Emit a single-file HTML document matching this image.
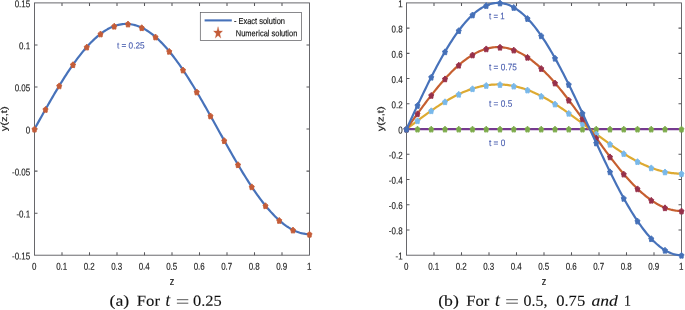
<!DOCTYPE html>
<html><head><meta charset="utf-8"><title>Figure</title>
<style>
html,body{margin:0;padding:0;background:#fff;}
body{width:685px;height:310px;overflow:hidden;font-family:"Liberation Sans",sans-serif;}
text{font-family:"Liberation Sans",sans-serif;}
.tk{font-size:10.0px;fill:#1c1c1c;stroke:#1c1c1c;stroke-width:0.15px;}
.lb{font-size:11.2px;fill:#1c1c1c;stroke:#1c1c1c;stroke-width:0.2px;}
.lg{fill:#111;stroke:#111;stroke-width:0.15px;}
.an{fill:#4a5fb0;stroke:#4a5fb0;stroke-width:0.12px;}
.cp{font-family:"Liberation Serif",serif;fill:#111;stroke:#111;stroke-width:0.12px;}
</style></head><body>
<svg width="685" height="310" viewBox="0 0 685 310" style="display:block;will-change:transform">
<rect width="685" height="310" fill="#fff"/>
<rect x="34.5" y="2.9" width="275.0" height="252.29999999999998" fill="none" stroke="#58585c" stroke-width="0.9"/>
<text transform="translate(34.20,269.80) scale(0.8,1) rotate(0.05)" text-anchor="middle" class="tk">0</text>
<text transform="translate(61.70,269.80) scale(0.8,1) rotate(0.05)" text-anchor="middle" class="tk">0.1</text>
<text transform="translate(89.20,269.80) scale(0.8,1) rotate(0.05)" text-anchor="middle" class="tk">0.2</text>
<text transform="translate(116.70,269.80) scale(0.8,1) rotate(0.05)" text-anchor="middle" class="tk">0.3</text>
<text transform="translate(144.20,269.80) scale(0.8,1) rotate(0.05)" text-anchor="middle" class="tk">0.4</text>
<text transform="translate(171.70,269.80) scale(0.8,1) rotate(0.05)" text-anchor="middle" class="tk">0.5</text>
<text transform="translate(199.20,269.80) scale(0.8,1) rotate(0.05)" text-anchor="middle" class="tk">0.6</text>
<text transform="translate(226.70,269.80) scale(0.8,1) rotate(0.05)" text-anchor="middle" class="tk">0.7</text>
<text transform="translate(254.20,269.80) scale(0.8,1) rotate(0.05)" text-anchor="middle" class="tk">0.8</text>
<text transform="translate(281.70,269.80) scale(0.8,1) rotate(0.05)" text-anchor="middle" class="tk">0.9</text>
<text transform="translate(309.20,269.80) scale(0.8,1) rotate(0.05)" text-anchor="middle" class="tk">1</text>
<text transform="translate(30.20,259.55) scale(0.8,1) rotate(0.05)" text-anchor="end" class="tk">-0.15</text>
<text transform="translate(30.20,217.50) scale(0.8,1) rotate(0.05)" text-anchor="end" class="tk">-0.1</text>
<text transform="translate(30.20,175.45) scale(0.8,1) rotate(0.05)" text-anchor="end" class="tk">-0.05</text>
<text transform="translate(30.20,133.40) scale(0.8,1) rotate(0.05)" text-anchor="end" class="tk">0</text>
<text transform="translate(30.20,91.35) scale(0.8,1) rotate(0.05)" text-anchor="end" class="tk">0.05</text>
<text transform="translate(30.20,49.30) scale(0.8,1) rotate(0.05)" text-anchor="end" class="tk">0.1</text>
<text transform="translate(30.20,7.25) scale(0.8,1) rotate(0.05)" text-anchor="end" class="tk">0.15</text>
<path d="M62.00,255.2v-3.0M62.00,2.9v3.0M89.50,255.2v-3.0M89.50,2.9v3.0M117.00,255.2v-3.0M117.00,2.9v3.0M144.50,255.2v-3.0M144.50,2.9v3.0M172.00,255.2v-3.0M172.00,2.9v3.0M199.50,255.2v-3.0M199.50,2.9v3.0M227.00,255.2v-3.0M227.00,2.9v3.0M254.50,255.2v-3.0M254.50,2.9v3.0M282.00,255.2v-3.0M282.00,2.9v3.0M34.5,213.15h3.0M309.5,213.15h-3.0M34.5,171.10h3.0M309.5,171.10h-3.0M34.5,129.05h3.0M309.5,129.05h-3.0M34.5,87.00h3.0M309.5,87.00h-3.0M34.5,44.95h3.0M309.5,44.95h-3.0" stroke="#58585c" stroke-width="1.05" fill="none"/>
<path d="M34.50,129.05 L35.88,126.57 L37.25,124.10 L38.62,121.63 L40.00,119.16 L41.38,116.69 L42.75,114.24 L44.12,111.79 L45.50,109.35 L46.88,106.92 L48.25,104.51 L49.62,102.11 L51.00,99.72 L52.38,97.35 L53.75,95.00 L55.12,92.66 L56.50,90.35 L57.88,88.06 L59.25,85.79 L60.62,83.54 L62.00,81.32 L63.38,79.13 L64.75,76.96 L66.12,74.83 L67.50,72.72 L68.88,70.65 L70.25,68.60 L71.62,66.59 L73.00,64.62 L74.38,62.68 L75.75,60.78 L77.12,58.91 L78.50,57.09 L79.88,55.30 L81.25,53.56 L82.62,51.85 L84.00,50.19 L85.38,48.58 L86.75,47.01 L88.12,45.48 L89.50,44.00 L90.88,42.57 L92.25,41.19 L93.62,39.85 L95.00,38.56 L96.38,37.33 L97.75,36.14 L99.12,35.01 L100.50,33.93 L101.88,32.90 L103.25,31.93 L104.62,31.01 L106.00,30.14 L107.38,29.33 L108.75,28.57 L110.12,27.87 L111.50,27.23 L112.88,26.64 L114.25,26.11 L115.62,25.64 L117.00,25.22 L118.38,24.86 L119.75,24.56 L121.12,24.32 L122.50,24.13 L123.88,24.01 L125.25,23.94 L126.62,23.93 L128.00,23.98 L129.38,24.08 L130.75,24.25 L132.12,24.47 L133.50,24.75 L134.88,25.09 L136.25,25.49 L137.62,25.94 L139.00,26.46 L140.38,27.03 L141.75,27.65 L143.12,28.33 L144.50,29.07 L145.88,29.86 L147.25,30.71 L148.62,31.61 L150.00,32.57 L151.38,33.58 L152.75,34.64 L154.12,35.76 L155.50,36.93 L156.88,38.15 L158.25,39.42 L159.62,40.74 L161.00,42.10 L162.38,43.52 L163.75,44.98 L165.12,46.49 L166.50,48.05 L167.88,49.65 L169.25,51.30 L170.62,52.98 L172.00,54.72 L173.38,56.49 L174.75,58.30 L176.12,60.15 L177.50,62.04 L178.88,63.97 L180.25,65.93 L181.62,67.93 L183.00,69.96 L184.38,72.03 L185.75,74.12 L187.12,76.25 L188.50,78.41 L189.87,80.59 L191.25,82.80 L192.62,85.04 L194.00,87.30 L195.38,89.58 L196.75,91.89 L198.12,94.22 L199.50,96.56 L200.88,98.93 L202.25,101.31 L203.62,103.71 L205.00,106.12 L206.38,108.54 L207.75,110.98 L209.12,113.42 L210.50,115.87 L211.88,118.34 L213.25,120.80 L214.62,123.27 L216.00,125.75 L217.38,128.22 L218.75,130.70 L220.12,133.18 L221.50,135.65 L222.88,138.12 L224.25,140.59 L225.62,143.04 L227.00,145.50 L228.38,147.94 L229.75,150.37 L231.12,152.79 L232.50,155.19 L233.88,157.59 L235.25,159.96 L236.62,162.32 L238.00,164.66 L239.38,166.98 L240.75,169.28 L242.12,171.56 L243.50,173.81 L244.88,176.04 L246.25,178.24 L247.62,180.42 L249.00,182.56 L250.38,184.68 L251.75,186.77 L253.12,188.82 L254.50,190.84 L255.88,192.83 L257.25,194.78 L258.62,196.69 L260.00,198.57 L261.38,200.41 L262.75,202.21 L264.12,203.97 L265.50,205.68 L266.88,207.36 L268.25,208.99 L269.62,210.57 L271.00,212.12 L272.38,213.61 L273.75,215.06 L275.12,216.46 L276.50,217.81 L277.88,219.11 L279.25,220.36 L280.62,221.57 L282.00,222.72 L283.38,223.82 L284.75,224.86 L286.12,225.85 L287.50,226.79 L288.88,227.68 L290.25,228.51 L291.62,229.28 L293.00,230.00 L294.38,230.66 L295.75,231.27 L297.12,231.82 L298.50,232.31 L299.88,232.75 L301.25,233.13 L302.62,233.45 L304.00,233.71 L305.38,233.91 L306.75,234.06 L308.12,234.15 L309.50,234.17" fill="none" stroke="#4772ba" stroke-width="2.2" stroke-linejoin="round" stroke-linecap="butt"/>
<polygon points="34.50,126.15 35.64,127.51 37.04,128.43 36.35,130.19 36.07,132.12 34.50,131.85 32.93,132.12 32.65,130.19 31.96,128.43 33.36,127.51" fill="#c45c38" stroke="#c45c38" stroke-width="0.9" stroke-linejoin="round"/>
<polygon points="45.50,106.45 46.64,107.81 48.04,108.73 47.35,110.49 47.07,112.42 45.50,112.15 43.93,112.42 43.65,110.49 42.96,108.73 44.36,107.81" fill="#c45c38" stroke="#c45c38" stroke-width="0.9" stroke-linejoin="round"/>
<polygon points="59.25,82.89 60.39,84.25 61.79,85.17 61.10,86.93 60.82,88.86 59.25,88.59 57.68,88.86 57.40,86.93 56.71,85.17 58.11,84.25" fill="#c45c38" stroke="#c45c38" stroke-width="0.9" stroke-linejoin="round"/>
<polygon points="73.00,61.72 74.14,63.08 75.54,64.00 74.85,65.76 74.57,67.69 73.00,67.42 71.43,67.69 71.15,65.76 70.46,64.00 71.86,63.08" fill="#c45c38" stroke="#c45c38" stroke-width="0.9" stroke-linejoin="round"/>
<polygon points="86.75,44.11 87.89,45.47 89.29,46.39 88.60,48.15 88.32,50.08 86.75,49.81 85.18,50.08 84.90,48.15 84.21,46.39 85.61,45.47" fill="#c45c38" stroke="#c45c38" stroke-width="0.9" stroke-linejoin="round"/>
<polygon points="100.50,31.03 101.64,32.39 103.04,33.31 102.35,35.07 102.07,37.00 100.50,36.73 98.93,37.00 98.65,35.07 97.96,33.31 99.36,32.39" fill="#c45c38" stroke="#c45c38" stroke-width="0.9" stroke-linejoin="round"/>
<polygon points="114.25,23.21 115.39,24.57 116.79,25.49 116.10,27.25 115.82,29.18 114.25,28.91 112.68,29.18 112.40,27.25 111.71,25.49 113.11,24.57" fill="#c45c38" stroke="#c45c38" stroke-width="0.9" stroke-linejoin="round"/>
<polygon points="128.00,21.08 129.14,22.44 130.54,23.36 129.85,25.12 129.57,27.05 128.00,26.78 126.43,27.05 126.15,25.12 125.46,23.36 126.86,22.44" fill="#c45c38" stroke="#c45c38" stroke-width="0.9" stroke-linejoin="round"/>
<polygon points="141.75,24.75 142.89,26.11 144.29,27.03 143.60,28.79 143.32,30.72 141.75,30.45 140.18,30.72 139.90,28.79 139.21,27.03 140.61,26.11" fill="#c45c38" stroke="#c45c38" stroke-width="0.9" stroke-linejoin="round"/>
<polygon points="155.50,34.03 156.64,35.39 158.04,36.31 157.35,38.07 157.07,40.00 155.50,39.73 153.93,40.00 153.65,38.07 152.96,36.31 154.36,35.39" fill="#c45c38" stroke="#c45c38" stroke-width="0.9" stroke-linejoin="round"/>
<polygon points="169.25,48.40 170.39,49.75 171.79,50.68 171.10,52.44 170.82,54.37 169.25,54.10 167.68,54.37 167.40,52.44 166.71,50.68 168.11,49.75" fill="#c45c38" stroke="#c45c38" stroke-width="0.9" stroke-linejoin="round"/>
<polygon points="183.00,67.06 184.14,68.42 185.54,69.34 184.85,71.10 184.57,73.03 183.00,72.76 181.43,73.03 181.15,71.10 180.46,69.34 181.86,68.42" fill="#c45c38" stroke="#c45c38" stroke-width="0.9" stroke-linejoin="round"/>
<polygon points="196.75,88.99 197.89,90.35 199.29,91.27 198.60,93.03 198.32,94.96 196.75,94.69 195.18,94.96 194.90,93.03 194.21,91.27 195.61,90.35" fill="#c45c38" stroke="#c45c38" stroke-width="0.9" stroke-linejoin="round"/>
<polygon points="210.50,112.97 211.64,114.33 213.04,115.25 212.35,117.02 212.07,118.94 210.50,118.67 208.93,118.94 208.65,117.02 207.96,115.25 209.36,114.33" fill="#c45c38" stroke="#c45c38" stroke-width="0.9" stroke-linejoin="round"/>
<polygon points="224.25,137.69 225.39,139.04 226.79,139.97 226.10,141.73 225.82,143.66 224.25,143.39 222.68,143.66 222.40,141.73 221.71,139.97 223.11,139.04" fill="#c45c38" stroke="#c45c38" stroke-width="0.9" stroke-linejoin="round"/>
<polygon points="238.00,161.76 239.14,163.12 240.54,164.04 239.85,165.80 239.57,167.73 238.00,167.46 236.43,167.73 236.15,165.80 235.46,164.04 236.86,163.12" fill="#c45c38" stroke="#c45c38" stroke-width="0.9" stroke-linejoin="round"/>
<polygon points="251.75,183.87 252.89,185.22 254.29,186.15 253.60,187.91 253.32,189.84 251.75,189.57 250.18,189.84 249.90,187.91 249.21,186.15 250.61,185.22" fill="#c45c38" stroke="#c45c38" stroke-width="0.9" stroke-linejoin="round"/>
<polygon points="265.50,202.78 266.64,204.14 268.04,205.06 267.35,206.82 267.07,208.75 265.50,208.48 263.93,208.75 263.65,206.82 262.96,205.06 264.36,204.14" fill="#c45c38" stroke="#c45c38" stroke-width="0.9" stroke-linejoin="round"/>
<polygon points="279.25,217.46 280.39,218.82 281.79,219.75 281.10,221.51 280.82,223.43 279.25,223.16 277.68,223.43 277.40,221.51 276.71,219.75 278.11,218.82" fill="#c45c38" stroke="#c45c38" stroke-width="0.9" stroke-linejoin="round"/>
<polygon points="293.00,227.10 294.14,228.46 295.54,229.38 294.85,231.14 294.57,233.07 293.00,232.80 291.43,233.07 291.15,231.14 290.46,229.38 291.86,228.46" fill="#c45c38" stroke="#c45c38" stroke-width="0.9" stroke-linejoin="round"/>
<polygon points="309.50,231.27 310.64,232.63 312.04,233.56 311.35,235.32 311.07,237.24 309.50,236.97 307.93,237.24 307.65,235.32 306.96,233.56 308.36,232.63" fill="#c45c38" stroke="#c45c38" stroke-width="0.9" stroke-linejoin="round"/>
<text transform="translate(172.00,285.00) scale(0.8,1) rotate(0.05)" text-anchor="middle" class="lb">z</text>
<text transform="translate(7.1,118.8) scale(0.8,1) rotate(-89.95)" text-anchor="middle" class="lb">y(z,t)</text>
<rect x="200.3" y="12.4" width="101.2" height="28.2" fill="#fff" stroke="#58585c" stroke-width="0.7"/>
<path d="M204.6,20.4H231.8" stroke="#4772ba" stroke-width="2.1"/>
<polygon points="218.05,26.70 219.13,31.02 222.54,31.05 219.80,33.76 220.83,38.10 218.05,35.45 215.27,38.10 216.30,33.76 213.56,31.05 216.97,31.02" fill="#c45c38" stroke="#c45c38" stroke-width="0.3"/>
<text transform="translate(233.90,24.00) scale(0.8496,1) rotate(0.05)" class="lg" style="font-size:8.8px">- Exact solution</text>
<text transform="translate(235.80,36.30) scale(0.8524,1) rotate(0.05)" class="lg" style="font-size:8.8px">Numerical solution</text>
<text transform="translate(116.90,48.50) scale(0.9179,1) rotate(0.05)" class="an" style="font-size:9.0px">t = 0.25</text>
<rect x="406.5" y="2.9" width="275.0" height="252.29999999999998" fill="none" stroke="#58585c" stroke-width="0.9"/>
<text transform="translate(406.20,269.80) scale(0.8,1) rotate(0.05)" text-anchor="middle" class="tk">0</text>
<text transform="translate(433.70,269.80) scale(0.8,1) rotate(0.05)" text-anchor="middle" class="tk">0.1</text>
<text transform="translate(461.20,269.80) scale(0.8,1) rotate(0.05)" text-anchor="middle" class="tk">0.2</text>
<text transform="translate(488.70,269.80) scale(0.8,1) rotate(0.05)" text-anchor="middle" class="tk">0.3</text>
<text transform="translate(516.20,269.80) scale(0.8,1) rotate(0.05)" text-anchor="middle" class="tk">0.4</text>
<text transform="translate(543.70,269.80) scale(0.8,1) rotate(0.05)" text-anchor="middle" class="tk">0.5</text>
<text transform="translate(571.20,269.80) scale(0.8,1) rotate(0.05)" text-anchor="middle" class="tk">0.6</text>
<text transform="translate(598.70,269.80) scale(0.8,1) rotate(0.05)" text-anchor="middle" class="tk">0.7</text>
<text transform="translate(626.20,269.80) scale(0.8,1) rotate(0.05)" text-anchor="middle" class="tk">0.8</text>
<text transform="translate(653.70,269.80) scale(0.8,1) rotate(0.05)" text-anchor="middle" class="tk">0.9</text>
<text transform="translate(681.20,269.80) scale(0.8,1) rotate(0.05)" text-anchor="middle" class="tk">1</text>
<text transform="translate(402.60,259.55) scale(0.8,1) rotate(0.05)" text-anchor="end" class="tk">-1</text>
<text transform="translate(402.60,234.32) scale(0.8,1) rotate(0.05)" text-anchor="end" class="tk">-0.8</text>
<text transform="translate(402.60,209.09) scale(0.8,1) rotate(0.05)" text-anchor="end" class="tk">-0.6</text>
<text transform="translate(402.60,183.86) scale(0.8,1) rotate(0.05)" text-anchor="end" class="tk">-0.4</text>
<text transform="translate(402.60,158.63) scale(0.8,1) rotate(0.05)" text-anchor="end" class="tk">-0.2</text>
<text transform="translate(402.60,133.40) scale(0.8,1) rotate(0.05)" text-anchor="end" class="tk">0</text>
<text transform="translate(402.60,108.17) scale(0.8,1) rotate(0.05)" text-anchor="end" class="tk">0.2</text>
<text transform="translate(402.60,82.94) scale(0.8,1) rotate(0.05)" text-anchor="end" class="tk">0.4</text>
<text transform="translate(402.60,57.71) scale(0.8,1) rotate(0.05)" text-anchor="end" class="tk">0.6</text>
<text transform="translate(402.60,32.48) scale(0.8,1) rotate(0.05)" text-anchor="end" class="tk">0.8</text>
<text transform="translate(402.60,7.25) scale(0.8,1) rotate(0.05)" text-anchor="end" class="tk">1</text>
<path d="M434.00,255.2v-3.0M434.00,2.9v3.0M461.50,255.2v-3.0M461.50,2.9v3.0M489.00,255.2v-3.0M489.00,2.9v3.0M516.50,255.2v-3.0M516.50,2.9v3.0M544.00,255.2v-3.0M544.00,2.9v3.0M571.50,255.2v-3.0M571.50,2.9v3.0M599.00,255.2v-3.0M599.00,2.9v3.0M626.50,255.2v-3.0M626.50,2.9v3.0M654.00,255.2v-3.0M654.00,2.9v3.0M406.5,229.97h3.0M681.5,229.97h-3.0M406.5,204.74h3.0M681.5,204.74h-3.0M406.5,179.51h3.0M681.5,179.51h-3.0M406.5,154.28h3.0M681.5,154.28h-3.0M406.5,129.05h3.0M681.5,129.05h-3.0M406.5,103.82h3.0M681.5,103.82h-3.0M406.5,78.59h3.0M681.5,78.59h-3.0M406.5,53.36h3.0M681.5,53.36h-3.0M406.5,28.13h3.0M681.5,28.13h-3.0" stroke="#58585c" stroke-width="1.05" fill="none"/>
<path d="M406.50,129.05 L407.88,129.05 L409.25,129.05 L410.62,129.05 L412.00,129.05 L413.38,129.05 L414.75,129.05 L416.12,129.05 L417.50,129.05 L418.88,129.05 L420.25,129.05 L421.62,129.05 L423.00,129.05 L424.38,129.05 L425.75,129.05 L427.12,129.05 L428.50,129.05 L429.88,129.05 L431.25,129.05 L432.62,129.05 L434.00,129.05 L435.38,129.05 L436.75,129.05 L438.12,129.05 L439.50,129.05 L440.88,129.05 L442.25,129.05 L443.62,129.05 L445.00,129.05 L446.38,129.05 L447.75,129.05 L449.12,129.05 L450.50,129.05 L451.88,129.05 L453.25,129.05 L454.62,129.05 L456.00,129.05 L457.38,129.05 L458.75,129.05 L460.12,129.05 L461.50,129.05 L462.88,129.05 L464.25,129.05 L465.62,129.05 L467.00,129.05 L468.38,129.05 L469.75,129.05 L471.12,129.05 L472.50,129.05 L473.88,129.05 L475.25,129.05 L476.62,129.05 L478.00,129.05 L479.38,129.05 L480.75,129.05 L482.12,129.05 L483.50,129.05 L484.88,129.05 L486.25,129.05 L487.62,129.05 L489.00,129.05 L490.38,129.05 L491.75,129.05 L493.12,129.05 L494.50,129.05 L495.88,129.05 L497.25,129.05 L498.62,129.05 L500.00,129.05 L501.38,129.05 L502.75,129.05 L504.12,129.05 L505.50,129.05 L506.88,129.05 L508.25,129.05 L509.62,129.05 L511.00,129.05 L512.38,129.05 L513.75,129.05 L515.12,129.05 L516.50,129.05 L517.88,129.05 L519.25,129.05 L520.62,129.05 L522.00,129.05 L523.38,129.05 L524.75,129.05 L526.12,129.05 L527.50,129.05 L528.88,129.05 L530.25,129.05 L531.62,129.05 L533.00,129.05 L534.38,129.05 L535.75,129.05 L537.12,129.05 L538.50,129.05 L539.88,129.05 L541.25,129.05 L542.62,129.05 L544.00,129.05 L545.38,129.05 L546.75,129.05 L548.12,129.05 L549.50,129.05 L550.88,129.05 L552.25,129.05 L553.62,129.05 L555.00,129.05 L556.38,129.05 L557.75,129.05 L559.12,129.05 L560.50,129.05 L561.88,129.05 L563.25,129.05 L564.62,129.05 L566.00,129.05 L567.38,129.05 L568.75,129.05 L570.12,129.05 L571.50,129.05 L572.88,129.05 L574.25,129.05 L575.62,129.05 L577.00,129.05 L578.38,129.05 L579.75,129.05 L581.12,129.05 L582.50,129.05 L583.88,129.05 L585.25,129.05 L586.62,129.05 L588.00,129.05 L589.38,129.05 L590.75,129.05 L592.12,129.05 L593.50,129.05 L594.88,129.05 L596.25,129.05 L597.62,129.05 L599.00,129.05 L600.38,129.05 L601.75,129.05 L603.12,129.05 L604.50,129.05 L605.88,129.05 L607.25,129.05 L608.62,129.05 L610.00,129.05 L611.38,129.05 L612.75,129.05 L614.12,129.05 L615.50,129.05 L616.88,129.05 L618.25,129.05 L619.62,129.05 L621.00,129.05 L622.38,129.05 L623.75,129.05 L625.12,129.05 L626.50,129.05 L627.88,129.05 L629.25,129.05 L630.62,129.05 L632.00,129.05 L633.38,129.05 L634.75,129.05 L636.12,129.05 L637.50,129.05 L638.88,129.05 L640.25,129.05 L641.62,129.05 L643.00,129.05 L644.38,129.05 L645.75,129.05 L647.12,129.05 L648.50,129.05 L649.88,129.05 L651.25,129.05 L652.62,129.05 L654.00,129.05 L655.38,129.05 L656.75,129.05 L658.12,129.05 L659.50,129.05 L660.88,129.05 L662.25,129.05 L663.62,129.05 L665.00,129.05 L666.38,129.05 L667.75,129.05 L669.12,129.05 L670.50,129.05 L671.88,129.05 L673.25,129.05 L674.62,129.05 L676.00,129.05 L677.38,129.05 L678.75,129.05 L680.12,129.05 L681.50,129.05" fill="none" stroke="#763a90" stroke-width="2.2" stroke-linejoin="round" stroke-linecap="butt"/>
<polygon points="406.50,126.15 407.64,127.51 409.04,128.43 408.35,130.19 408.07,132.12 406.50,131.85 404.93,132.12 404.65,130.19 403.96,128.43 405.36,127.51" fill="#7caa49" stroke="#7caa49" stroke-width="0.9" stroke-linejoin="round"/>
<polygon points="417.50,126.15 418.64,127.51 420.04,128.43 419.35,130.19 419.07,132.12 417.50,131.85 415.93,132.12 415.65,130.19 414.96,128.43 416.36,127.51" fill="#7caa49" stroke="#7caa49" stroke-width="0.9" stroke-linejoin="round"/>
<polygon points="431.25,126.15 432.39,127.51 433.79,128.43 433.10,130.19 432.82,132.12 431.25,131.85 429.68,132.12 429.40,130.19 428.71,128.43 430.11,127.51" fill="#7caa49" stroke="#7caa49" stroke-width="0.9" stroke-linejoin="round"/>
<polygon points="445.00,126.15 446.14,127.51 447.54,128.43 446.85,130.19 446.57,132.12 445.00,131.85 443.43,132.12 443.15,130.19 442.46,128.43 443.86,127.51" fill="#7caa49" stroke="#7caa49" stroke-width="0.9" stroke-linejoin="round"/>
<polygon points="458.75,126.15 459.89,127.51 461.29,128.43 460.60,130.19 460.32,132.12 458.75,131.85 457.18,132.12 456.90,130.19 456.21,128.43 457.61,127.51" fill="#7caa49" stroke="#7caa49" stroke-width="0.9" stroke-linejoin="round"/>
<polygon points="472.50,126.15 473.64,127.51 475.04,128.43 474.35,130.19 474.07,132.12 472.50,131.85 470.93,132.12 470.65,130.19 469.96,128.43 471.36,127.51" fill="#7caa49" stroke="#7caa49" stroke-width="0.9" stroke-linejoin="round"/>
<polygon points="486.25,126.15 487.39,127.51 488.79,128.43 488.10,130.19 487.82,132.12 486.25,131.85 484.68,132.12 484.40,130.19 483.71,128.43 485.11,127.51" fill="#7caa49" stroke="#7caa49" stroke-width="0.9" stroke-linejoin="round"/>
<polygon points="500.00,126.15 501.14,127.51 502.54,128.43 501.85,130.19 501.57,132.12 500.00,131.85 498.43,132.12 498.15,130.19 497.46,128.43 498.86,127.51" fill="#7caa49" stroke="#7caa49" stroke-width="0.9" stroke-linejoin="round"/>
<polygon points="513.75,126.15 514.89,127.51 516.29,128.43 515.60,130.19 515.32,132.12 513.75,131.85 512.18,132.12 511.90,130.19 511.21,128.43 512.61,127.51" fill="#7caa49" stroke="#7caa49" stroke-width="0.9" stroke-linejoin="round"/>
<polygon points="527.50,126.15 528.64,127.51 530.04,128.43 529.35,130.19 529.07,132.12 527.50,131.85 525.93,132.12 525.65,130.19 524.96,128.43 526.36,127.51" fill="#7caa49" stroke="#7caa49" stroke-width="0.9" stroke-linejoin="round"/>
<polygon points="541.25,126.15 542.39,127.51 543.79,128.43 543.10,130.19 542.82,132.12 541.25,131.85 539.68,132.12 539.40,130.19 538.71,128.43 540.11,127.51" fill="#7caa49" stroke="#7caa49" stroke-width="0.9" stroke-linejoin="round"/>
<polygon points="555.00,126.15 556.14,127.51 557.54,128.43 556.85,130.19 556.57,132.12 555.00,131.85 553.43,132.12 553.15,130.19 552.46,128.43 553.86,127.51" fill="#7caa49" stroke="#7caa49" stroke-width="0.9" stroke-linejoin="round"/>
<polygon points="568.75,126.15 569.89,127.51 571.29,128.43 570.60,130.19 570.32,132.12 568.75,131.85 567.18,132.12 566.90,130.19 566.21,128.43 567.61,127.51" fill="#7caa49" stroke="#7caa49" stroke-width="0.9" stroke-linejoin="round"/>
<polygon points="582.50,126.15 583.64,127.51 585.04,128.43 584.35,130.19 584.07,132.12 582.50,131.85 580.93,132.12 580.65,130.19 579.96,128.43 581.36,127.51" fill="#7caa49" stroke="#7caa49" stroke-width="0.9" stroke-linejoin="round"/>
<polygon points="596.25,126.15 597.39,127.51 598.79,128.43 598.10,130.19 597.82,132.12 596.25,131.85 594.68,132.12 594.40,130.19 593.71,128.43 595.11,127.51" fill="#7caa49" stroke="#7caa49" stroke-width="0.9" stroke-linejoin="round"/>
<polygon points="610.00,126.15 611.14,127.51 612.54,128.43 611.85,130.19 611.57,132.12 610.00,131.85 608.43,132.12 608.15,130.19 607.46,128.43 608.86,127.51" fill="#7caa49" stroke="#7caa49" stroke-width="0.9" stroke-linejoin="round"/>
<polygon points="623.75,126.15 624.89,127.51 626.29,128.43 625.60,130.19 625.32,132.12 623.75,131.85 622.18,132.12 621.90,130.19 621.21,128.43 622.61,127.51" fill="#7caa49" stroke="#7caa49" stroke-width="0.9" stroke-linejoin="round"/>
<polygon points="637.50,126.15 638.64,127.51 640.04,128.43 639.35,130.19 639.07,132.12 637.50,131.85 635.93,132.12 635.65,130.19 634.96,128.43 636.36,127.51" fill="#7caa49" stroke="#7caa49" stroke-width="0.9" stroke-linejoin="round"/>
<polygon points="651.25,126.15 652.39,127.51 653.79,128.43 653.10,130.19 652.82,132.12 651.25,131.85 649.68,132.12 649.40,130.19 648.71,128.43 650.11,127.51" fill="#7caa49" stroke="#7caa49" stroke-width="0.9" stroke-linejoin="round"/>
<polygon points="665.00,126.15 666.14,127.51 667.54,128.43 666.85,130.19 666.57,132.12 665.00,131.85 663.43,132.12 663.15,130.19 662.46,128.43 663.86,127.51" fill="#7caa49" stroke="#7caa49" stroke-width="0.9" stroke-linejoin="round"/>
<polygon points="681.50,126.15 682.64,127.51 684.04,128.43 683.35,130.19 683.07,132.12 681.50,131.85 679.93,132.12 679.65,130.19 678.96,128.43 680.36,127.51" fill="#7caa49" stroke="#7caa49" stroke-width="0.9" stroke-linejoin="round"/>
<path d="M406.50,129.05 L407.88,128.00 L409.25,126.95 L410.62,125.90 L412.00,124.85 L413.38,123.81 L414.75,122.77 L416.12,121.73 L417.50,120.69 L418.88,119.66 L420.25,118.64 L421.62,117.62 L423.00,116.61 L424.38,115.60 L425.75,114.60 L427.12,113.61 L428.50,112.63 L429.88,111.66 L431.25,110.70 L432.62,109.74 L434.00,108.80 L435.38,107.87 L436.75,106.95 L438.12,106.05 L439.50,105.15 L440.88,104.27 L442.25,103.40 L443.62,102.55 L445.00,101.71 L446.38,100.89 L447.75,100.08 L449.12,99.29 L450.50,98.52 L451.88,97.76 L453.25,97.02 L454.62,96.30 L456.00,95.59 L457.38,94.91 L458.75,94.24 L460.12,93.59 L461.50,92.97 L462.88,92.36 L464.25,91.77 L465.62,91.21 L467.00,90.66 L468.38,90.14 L469.75,89.63 L471.12,89.15 L472.50,88.69 L473.88,88.26 L475.25,87.84 L476.62,87.45 L478.00,87.09 L479.38,86.74 L480.75,86.42 L482.12,86.12 L483.50,85.85 L484.88,85.60 L486.25,85.38 L487.62,85.17 L489.00,85.00 L490.38,84.85 L491.75,84.72 L493.12,84.62 L494.50,84.54 L495.88,84.48 L497.25,84.45 L498.62,84.45 L500.00,84.47 L501.38,84.52 L502.75,84.59 L504.12,84.68 L505.50,84.80 L506.88,84.94 L508.25,85.11 L509.62,85.31 L511.00,85.52 L512.38,85.76 L513.75,86.03 L515.12,86.32 L516.50,86.63 L517.88,86.97 L519.25,87.33 L520.62,87.71 L522.00,88.12 L523.38,88.55 L524.75,89.00 L526.12,89.47 L527.50,89.97 L528.88,90.48 L530.25,91.02 L531.62,91.58 L533.00,92.16 L534.38,92.76 L535.75,93.38 L537.12,94.02 L538.50,94.68 L539.88,95.36 L541.25,96.06 L542.62,96.78 L544.00,97.51 L545.38,98.26 L546.75,99.03 L548.12,99.82 L549.50,100.62 L550.88,101.44 L552.25,102.27 L553.62,103.12 L555.00,103.98 L556.38,104.86 L557.75,105.75 L559.12,106.65 L560.50,107.56 L561.88,108.49 L563.25,109.43 L564.62,110.38 L566.00,111.34 L567.38,112.31 L568.75,113.28 L570.12,114.27 L571.50,115.27 L572.88,116.27 L574.25,117.28 L575.62,118.30 L577.00,119.32 L578.38,120.35 L579.75,121.38 L581.12,122.42 L582.50,123.46 L583.88,124.50 L585.25,125.55 L586.62,126.60 L588.00,127.65 L589.38,128.70 L590.75,129.75 L592.12,130.80 L593.50,131.85 L594.88,132.90 L596.25,133.94 L597.62,134.99 L599.00,136.03 L600.38,137.06 L601.75,138.09 L603.12,139.12 L604.50,140.14 L605.88,141.16 L607.25,142.16 L608.62,143.17 L610.00,144.16 L611.38,145.14 L612.75,146.12 L614.12,147.08 L615.50,148.04 L616.88,148.99 L618.25,149.92 L619.62,150.84 L621.00,151.75 L622.38,152.65 L623.75,153.54 L625.12,154.41 L626.50,155.27 L627.88,156.11 L629.25,156.94 L630.62,157.75 L632.00,158.55 L633.38,159.33 L634.75,160.09 L636.12,160.83 L637.50,161.56 L638.88,162.27 L640.25,162.96 L641.62,163.64 L643.00,164.29 L644.38,164.93 L645.75,165.54 L647.12,166.13 L648.50,166.71 L649.88,167.26 L651.25,167.79 L652.62,168.30 L654.00,168.79 L655.38,169.26 L656.75,169.70 L658.12,170.12 L659.50,170.52 L660.88,170.89 L662.25,171.25 L663.62,171.57 L665.00,171.88 L666.38,172.16 L667.75,172.42 L669.12,172.65 L670.50,172.86 L671.88,173.05 L673.25,173.21 L674.62,173.34 L676.00,173.45 L677.38,173.54 L678.75,173.60 L680.12,173.64 L681.50,173.65" fill="none" stroke="#ddaa32" stroke-width="2.2" stroke-linejoin="round" stroke-linecap="butt"/>
<polygon points="406.50,126.15 407.64,127.51 409.04,128.43 408.35,130.19 408.07,132.12 406.50,131.85 404.93,132.12 404.65,130.19 403.96,128.43 405.36,127.51" fill="#78b8ea" stroke="#78b8ea" stroke-width="0.9" stroke-linejoin="round"/>
<polygon points="417.50,117.79 418.64,119.15 420.04,120.07 419.35,121.83 419.07,123.76 417.50,123.49 415.93,123.76 415.65,121.83 414.96,120.07 416.36,119.15" fill="#78b8ea" stroke="#78b8ea" stroke-width="0.9" stroke-linejoin="round"/>
<polygon points="431.25,107.80 432.39,109.15 433.79,110.08 433.10,111.84 432.82,113.77 431.25,113.50 429.68,113.77 429.40,111.84 428.71,110.08 430.11,109.15" fill="#78b8ea" stroke="#78b8ea" stroke-width="0.9" stroke-linejoin="round"/>
<polygon points="445.00,98.81 446.14,100.17 447.54,101.09 446.85,102.86 446.57,104.78 445.00,104.51 443.43,104.78 443.15,102.86 442.46,101.09 443.86,100.17" fill="#78b8ea" stroke="#78b8ea" stroke-width="0.9" stroke-linejoin="round"/>
<polygon points="458.75,91.34 459.89,92.70 461.29,93.62 460.60,95.38 460.32,97.31 458.75,97.04 457.18,97.31 456.90,95.38 456.21,93.62 457.61,92.70" fill="#78b8ea" stroke="#78b8ea" stroke-width="0.9" stroke-linejoin="round"/>
<polygon points="472.50,85.79 473.64,87.15 475.04,88.07 474.35,89.84 474.07,91.76 472.50,91.49 470.93,91.76 470.65,89.84 469.96,88.07 471.36,87.15" fill="#78b8ea" stroke="#78b8ea" stroke-width="0.9" stroke-linejoin="round"/>
<polygon points="486.25,82.48 487.39,83.83 488.79,84.76 488.10,86.52 487.82,88.45 486.25,88.18 484.68,88.45 484.40,86.52 483.71,84.76 485.11,83.83" fill="#78b8ea" stroke="#78b8ea" stroke-width="0.9" stroke-linejoin="round"/>
<polygon points="500.00,81.57 501.14,82.93 502.54,83.85 501.85,85.61 501.57,87.54 500.00,87.27 498.43,87.54 498.15,85.61 497.46,83.85 498.86,82.93" fill="#78b8ea" stroke="#78b8ea" stroke-width="0.9" stroke-linejoin="round"/>
<polygon points="513.75,83.13 514.89,84.49 516.29,85.41 515.60,87.17 515.32,89.10 513.75,88.83 512.18,89.10 511.90,87.17 511.21,85.41 512.61,84.49" fill="#78b8ea" stroke="#78b8ea" stroke-width="0.9" stroke-linejoin="round"/>
<polygon points="527.50,87.07 528.64,88.42 530.04,89.35 529.35,91.11 529.07,93.04 527.50,92.77 525.93,93.04 525.65,91.11 524.96,89.35 526.36,88.42" fill="#78b8ea" stroke="#78b8ea" stroke-width="0.9" stroke-linejoin="round"/>
<polygon points="541.25,93.16 542.39,94.52 543.79,95.44 543.10,97.20 542.82,99.13 541.25,98.86 539.68,99.13 539.40,97.20 538.71,95.44 540.11,94.52" fill="#78b8ea" stroke="#78b8ea" stroke-width="0.9" stroke-linejoin="round"/>
<polygon points="555.00,101.08 556.14,102.44 557.54,103.36 556.85,105.12 556.57,107.05 555.00,106.78 553.43,107.05 553.15,105.12 552.46,103.36 553.86,102.44" fill="#78b8ea" stroke="#78b8ea" stroke-width="0.9" stroke-linejoin="round"/>
<polygon points="568.75,110.38 569.89,111.74 571.29,112.66 570.60,114.43 570.32,116.35 568.75,116.08 567.18,116.35 566.90,114.43 566.21,112.66 567.61,111.74" fill="#78b8ea" stroke="#78b8ea" stroke-width="0.9" stroke-linejoin="round"/>
<polygon points="582.50,120.56 583.64,121.92 585.04,122.84 584.35,124.60 584.07,126.53 582.50,126.26 580.93,126.53 580.65,124.60 579.96,122.84 581.36,121.92" fill="#78b8ea" stroke="#78b8ea" stroke-width="0.9" stroke-linejoin="round"/>
<polygon points="596.25,131.04 597.39,132.40 598.79,133.32 598.10,135.09 597.82,137.01 596.25,136.74 594.68,137.01 594.40,135.09 593.71,133.32 595.11,132.40" fill="#78b8ea" stroke="#78b8ea" stroke-width="0.9" stroke-linejoin="round"/>
<polygon points="610.00,141.26 611.14,142.62 612.54,143.54 611.85,145.30 611.57,147.23 610.00,146.96 608.43,147.23 608.15,145.30 607.46,143.54 608.86,142.62" fill="#78b8ea" stroke="#78b8ea" stroke-width="0.9" stroke-linejoin="round"/>
<polygon points="623.75,150.64 624.89,152.00 626.29,152.92 625.60,154.68 625.32,156.61 623.75,156.34 622.18,156.61 621.90,154.68 621.21,152.92 622.61,152.00" fill="#78b8ea" stroke="#78b8ea" stroke-width="0.9" stroke-linejoin="round"/>
<polygon points="637.50,158.66 638.64,160.02 640.04,160.94 639.35,162.70 639.07,164.63 637.50,164.36 635.93,164.63 635.65,162.70 634.96,160.94 636.36,160.02" fill="#78b8ea" stroke="#78b8ea" stroke-width="0.9" stroke-linejoin="round"/>
<polygon points="651.25,164.89 652.39,166.25 653.79,167.17 653.10,168.93 652.82,170.86 651.25,170.59 649.68,170.86 649.40,168.93 648.71,167.17 650.11,166.25" fill="#78b8ea" stroke="#78b8ea" stroke-width="0.9" stroke-linejoin="round"/>
<polygon points="665.00,168.98 666.14,170.34 667.54,171.26 666.85,173.02 666.57,174.95 665.00,174.68 663.43,174.95 663.15,173.02 662.46,171.26 663.86,170.34" fill="#78b8ea" stroke="#78b8ea" stroke-width="0.9" stroke-linejoin="round"/>
<polygon points="681.50,170.75 682.64,172.11 684.04,173.03 683.35,174.79 683.07,176.72 681.50,176.45 679.93,176.72 679.65,174.79 678.96,173.03 680.36,172.11" fill="#78b8ea" stroke="#78b8ea" stroke-width="0.9" stroke-linejoin="round"/>
<path d="M406.50,129.05 L407.88,127.12 L409.25,125.19 L410.62,123.26 L412.00,121.34 L413.38,119.42 L414.75,117.50 L416.12,115.60 L417.50,113.70 L418.88,111.80 L420.25,109.92 L421.62,108.05 L423.00,106.19 L424.38,104.34 L425.75,102.51 L427.12,100.69 L428.50,98.89 L429.88,97.10 L431.25,95.33 L432.62,93.58 L434.00,91.85 L435.38,90.14 L436.75,88.45 L438.12,86.79 L439.50,85.15 L440.88,83.53 L442.25,81.94 L443.62,80.37 L445.00,78.83 L446.38,77.32 L447.75,75.84 L449.12,74.38 L450.50,72.96 L451.88,71.57 L453.25,70.21 L454.62,68.88 L456.00,67.59 L457.38,66.33 L458.75,65.10 L460.12,63.91 L461.50,62.76 L462.88,61.65 L464.25,60.57 L465.62,59.53 L467.00,58.52 L468.38,57.56 L469.75,56.64 L471.12,55.75 L472.50,54.91 L473.88,54.11 L475.25,53.35 L476.62,52.63 L478.00,51.96 L479.38,51.32 L480.75,50.74 L482.12,50.19 L483.50,49.69 L484.88,49.23 L486.25,48.82 L487.62,48.45 L489.00,48.12 L490.38,47.84 L491.75,47.61 L493.12,47.42 L494.50,47.27 L495.88,47.18 L497.25,47.12 L498.62,47.12 L500.00,47.15 L501.38,47.24 L502.75,47.37 L504.12,47.54 L505.50,47.76 L506.88,48.02 L508.25,48.33 L509.62,48.69 L511.00,49.09 L512.38,49.53 L513.75,50.02 L515.12,50.55 L516.50,51.12 L517.88,51.74 L519.25,52.40 L520.62,53.11 L522.00,53.85 L523.38,54.64 L524.75,55.47 L526.12,56.34 L527.50,57.25 L528.88,58.20 L530.25,59.19 L531.62,60.22 L533.00,61.28 L534.38,62.39 L535.75,63.53 L537.12,64.70 L538.50,65.92 L539.88,67.16 L541.25,68.45 L542.62,69.76 L544.00,71.11 L545.38,72.49 L546.75,73.91 L548.12,75.35 L549.50,76.82 L550.88,78.32 L552.25,79.85 L553.62,81.41 L555.00,82.99 L556.38,84.60 L557.75,86.24 L559.12,87.90 L560.50,89.58 L561.88,91.28 L563.25,93.00 L564.62,94.75 L566.00,96.51 L567.38,98.29 L568.75,100.09 L570.12,101.90 L571.50,103.73 L572.88,105.57 L574.25,107.43 L575.62,109.30 L577.00,111.18 L578.38,113.06 L579.75,114.96 L581.12,116.87 L582.50,118.78 L583.88,120.70 L585.25,122.62 L586.62,124.55 L588.00,126.48 L589.38,128.41 L590.75,130.34 L592.12,132.27 L593.50,134.19 L594.88,136.12 L596.25,138.04 L597.62,139.96 L599.00,141.87 L600.38,143.77 L601.75,145.67 L603.12,147.55 L604.50,149.43 L605.88,151.29 L607.25,153.14 L608.62,154.98 L610.00,156.81 L611.38,158.61 L612.75,160.41 L614.12,162.18 L615.50,163.94 L616.88,165.67 L618.25,167.39 L619.62,169.09 L621.00,170.76 L622.38,172.41 L623.75,174.04 L625.12,175.64 L626.50,177.21 L627.88,178.76 L629.25,180.28 L630.62,181.77 L632.00,183.24 L633.38,184.67 L634.75,186.07 L636.12,187.44 L637.50,188.78 L638.88,190.08 L640.25,191.36 L641.62,192.59 L643.00,193.79 L644.38,194.96 L645.75,196.09 L647.12,197.18 L648.50,198.23 L649.88,199.25 L651.25,200.22 L652.62,201.16 L654.00,202.06 L655.38,202.91 L656.75,203.73 L658.12,204.50 L659.50,205.23 L660.88,205.92 L662.25,206.57 L663.62,207.17 L665.00,207.73 L666.38,208.25 L667.75,208.72 L669.12,209.15 L670.50,209.54 L671.88,209.87 L673.25,210.17 L674.62,210.42 L676.00,210.62 L677.38,210.78 L678.75,210.90 L680.12,210.96 L681.50,210.99" fill="none" stroke="#c65f30" stroke-width="2.2" stroke-linejoin="round" stroke-linecap="butt"/>
<polygon points="406.50,126.15 407.64,127.51 409.04,128.43 408.35,130.19 408.07,132.12 406.50,131.85 404.93,132.12 404.65,130.19 403.96,128.43 405.36,127.51" fill="#97304a" stroke="#97304a" stroke-width="0.9" stroke-linejoin="round"/>
<polygon points="417.50,110.80 418.64,112.15 420.04,113.08 419.35,114.84 419.07,116.77 417.50,116.50 415.93,116.77 415.65,114.84 414.96,113.08 416.36,112.15" fill="#97304a" stroke="#97304a" stroke-width="0.9" stroke-linejoin="round"/>
<polygon points="431.25,92.43 432.39,93.79 433.79,94.71 433.10,96.47 432.82,98.40 431.25,98.13 429.68,98.40 429.40,96.47 428.71,94.71 430.11,93.79" fill="#97304a" stroke="#97304a" stroke-width="0.9" stroke-linejoin="round"/>
<polygon points="445.00,75.93 446.14,77.29 447.54,78.21 446.85,79.97 446.57,81.90 445.00,81.63 443.43,81.90 443.15,79.97 442.46,78.21 443.86,77.29" fill="#97304a" stroke="#97304a" stroke-width="0.9" stroke-linejoin="round"/>
<polygon points="458.75,62.20 459.89,63.56 461.29,64.48 460.60,66.25 460.32,68.17 458.75,67.90 457.18,68.17 456.90,66.25 456.21,64.48 457.61,63.56" fill="#97304a" stroke="#97304a" stroke-width="0.9" stroke-linejoin="round"/>
<polygon points="472.50,52.01 473.64,53.37 475.04,54.29 474.35,56.05 474.07,57.98 472.50,57.71 470.93,57.98 470.65,56.05 469.96,54.29 471.36,53.37" fill="#97304a" stroke="#97304a" stroke-width="0.9" stroke-linejoin="round"/>
<polygon points="486.25,45.92 487.39,47.27 488.79,48.20 488.10,49.96 487.82,51.89 486.25,51.62 484.68,51.89 484.40,49.96 483.71,48.20 485.11,47.27" fill="#97304a" stroke="#97304a" stroke-width="0.9" stroke-linejoin="round"/>
<polygon points="500.00,44.25 501.14,45.61 502.54,46.53 501.85,48.30 501.57,50.22 500.00,49.95 498.43,50.22 498.15,48.30 497.46,46.53 498.86,45.61" fill="#97304a" stroke="#97304a" stroke-width="0.9" stroke-linejoin="round"/>
<polygon points="513.75,47.12 514.89,48.48 516.29,49.40 515.60,51.16 515.32,53.09 513.75,52.82 512.18,53.09 511.90,51.16 511.21,49.40 512.61,48.48" fill="#97304a" stroke="#97304a" stroke-width="0.9" stroke-linejoin="round"/>
<polygon points="527.50,54.35 528.64,55.71 530.04,56.63 529.35,58.39 529.07,60.32 527.50,60.05 525.93,60.32 525.65,58.39 524.96,56.63 526.36,55.71" fill="#97304a" stroke="#97304a" stroke-width="0.9" stroke-linejoin="round"/>
<polygon points="541.25,65.55 542.39,66.91 543.79,67.83 543.10,69.59 542.82,71.52 541.25,71.25 539.68,71.52 539.40,69.59 538.71,67.83 540.11,66.91" fill="#97304a" stroke="#97304a" stroke-width="0.9" stroke-linejoin="round"/>
<polygon points="555.00,80.09 556.14,81.45 557.54,82.37 556.85,84.14 556.57,86.06 555.00,85.79 553.43,86.06 553.15,84.14 552.46,82.37 553.86,81.45" fill="#97304a" stroke="#97304a" stroke-width="0.9" stroke-linejoin="round"/>
<polygon points="568.75,97.19 569.89,98.55 571.29,99.47 570.60,101.23 570.32,103.16 568.75,102.89 567.18,103.16 566.90,101.23 566.21,99.47 567.61,98.55" fill="#97304a" stroke="#97304a" stroke-width="0.9" stroke-linejoin="round"/>
<polygon points="582.50,115.88 583.64,117.24 585.04,118.16 584.35,119.92 584.07,121.85 582.50,121.58 580.93,121.85 580.65,119.92 579.96,118.16 581.36,117.24" fill="#97304a" stroke="#97304a" stroke-width="0.9" stroke-linejoin="round"/>
<polygon points="596.25,135.14 597.39,136.50 598.79,137.42 598.10,139.18 597.82,141.11 596.25,140.84 594.68,141.11 594.40,139.18 593.71,137.42 595.11,136.50" fill="#97304a" stroke="#97304a" stroke-width="0.9" stroke-linejoin="round"/>
<polygon points="610.00,153.91 611.14,155.26 612.54,156.19 611.85,157.95 611.57,159.87 610.00,159.61 608.43,159.87 608.15,157.95 607.46,156.19 608.86,155.26" fill="#97304a" stroke="#97304a" stroke-width="0.9" stroke-linejoin="round"/>
<polygon points="623.75,171.14 624.89,172.49 626.29,173.42 625.60,175.18 625.32,177.10 623.75,176.84 622.18,177.10 621.90,175.18 621.21,173.42 622.61,172.49" fill="#97304a" stroke="#97304a" stroke-width="0.9" stroke-linejoin="round"/>
<polygon points="637.50,185.88 638.64,187.24 640.04,188.16 639.35,189.92 639.07,191.85 637.50,191.58 635.93,191.85 635.65,189.92 634.96,188.16 636.36,187.24" fill="#97304a" stroke="#97304a" stroke-width="0.9" stroke-linejoin="round"/>
<polygon points="651.25,197.32 652.39,198.68 653.79,199.60 653.10,201.36 652.82,203.29 651.25,203.02 649.68,203.29 649.40,201.36 648.71,199.60 650.11,198.68" fill="#97304a" stroke="#97304a" stroke-width="0.9" stroke-linejoin="round"/>
<polygon points="665.00,204.83 666.14,206.19 667.54,207.11 666.85,208.88 666.57,210.80 665.00,210.53 663.43,210.80 663.15,208.88 662.46,207.11 663.86,206.19" fill="#97304a" stroke="#97304a" stroke-width="0.9" stroke-linejoin="round"/>
<polygon points="681.50,208.09 682.64,209.45 684.04,210.37 683.35,212.13 683.07,214.06 681.50,213.79 679.93,214.06 679.65,212.13 678.96,210.37 680.36,209.45" fill="#97304a" stroke="#97304a" stroke-width="0.9" stroke-linejoin="round"/>
<path d="M406.50,129.05 L407.88,126.08 L409.25,123.11 L410.62,120.14 L412.00,117.18 L413.38,114.22 L414.75,111.28 L416.12,108.34 L417.50,105.41 L418.88,102.50 L420.25,99.60 L421.62,96.72 L423.00,93.86 L424.38,91.01 L425.75,88.19 L427.12,85.39 L428.50,82.61 L429.88,79.86 L431.25,77.14 L432.62,74.44 L434.00,71.78 L435.38,69.15 L436.75,66.55 L438.12,63.98 L439.50,61.46 L440.88,58.96 L442.25,56.51 L443.62,54.10 L445.00,51.73 L446.38,49.40 L447.75,47.12 L449.12,44.88 L450.50,42.69 L451.88,40.55 L453.25,38.46 L454.62,36.42 L456.00,34.42 L457.38,32.48 L458.75,30.60 L460.12,28.77 L461.50,26.99 L462.88,25.27 L464.25,23.61 L465.62,22.01 L467.00,20.47 L468.38,18.98 L469.75,17.56 L471.12,16.20 L472.50,14.91 L473.88,13.67 L475.25,12.50 L476.62,11.40 L478.00,10.36 L479.38,9.38 L480.75,8.48 L482.12,7.64 L483.50,6.86 L484.88,6.16 L486.25,5.52 L487.62,4.95 L489.00,4.45 L490.38,4.02 L491.75,3.66 L493.12,3.37 L494.50,3.15 L495.88,3.00 L497.25,2.92 L498.62,2.90 L500.00,2.96 L501.38,3.09 L502.75,3.29 L504.12,3.56 L505.50,3.89 L506.88,4.30 L508.25,4.78 L509.62,5.32 L511.00,5.94 L512.38,6.62 L513.75,7.37 L515.12,8.19 L516.50,9.07 L517.88,10.03 L519.25,11.04 L520.62,12.13 L522.00,13.28 L523.38,14.49 L524.75,15.76 L526.12,17.10 L527.50,18.50 L528.88,19.97 L530.25,21.49 L531.62,23.07 L533.00,24.71 L534.38,26.41 L535.75,28.17 L537.12,29.98 L538.50,31.85 L539.88,33.77 L541.25,35.75 L542.62,37.77 L544.00,39.85 L545.38,41.97 L546.75,44.15 L548.12,46.37 L549.50,48.64 L550.88,50.95 L552.25,53.31 L553.62,55.70 L555.00,58.14 L556.38,60.62 L557.75,63.14 L559.12,65.69 L560.50,68.28 L561.88,70.90 L563.25,73.55 L564.62,76.24 L566.00,78.95 L567.38,81.69 L568.75,84.46 L570.12,87.25 L571.50,90.07 L572.88,92.90 L574.25,95.76 L575.62,98.64 L577.00,101.53 L578.38,104.44 L579.75,107.36 L581.12,110.29 L582.50,113.24 L583.88,116.19 L585.25,119.15 L586.62,122.12 L588.00,125.09 L589.38,128.06 L590.75,131.03 L592.12,134.00 L593.50,136.97 L594.88,139.94 L596.25,142.89 L597.62,145.84 L599.00,148.78 L600.38,151.71 L601.75,154.63 L603.12,157.53 L604.50,160.42 L605.88,163.29 L607.25,166.14 L608.62,168.97 L610.00,171.78 L611.38,174.57 L612.75,177.33 L614.12,180.06 L615.50,182.76 L616.88,185.44 L618.25,188.08 L619.62,190.69 L621.00,193.27 L622.38,195.81 L623.75,198.31 L625.12,200.77 L626.50,203.20 L627.88,205.58 L629.25,207.92 L630.62,210.22 L632.00,212.47 L633.38,214.68 L634.75,216.84 L636.12,218.95 L637.50,221.01 L638.88,223.02 L640.25,224.98 L641.62,226.88 L643.00,228.73 L644.38,230.52 L645.75,232.26 L647.12,233.94 L648.50,235.56 L649.88,237.12 L651.25,238.63 L652.62,240.07 L654.00,241.45 L655.38,242.77 L656.75,244.02 L658.12,245.21 L659.50,246.34 L660.88,247.40 L662.25,248.40 L663.62,249.33 L665.00,250.19 L666.38,250.99 L667.75,251.71 L669.12,252.37 L670.50,252.97 L671.88,253.49 L673.25,253.94 L674.62,254.33 L676.00,254.64 L677.38,254.88 L678.75,255.06 L680.12,255.16 L681.50,255.20" fill="none" stroke="#4772ba" stroke-width="2.2" stroke-linejoin="round" stroke-linecap="butt"/>
<polygon points="406.50,126.15 407.64,127.51 409.04,128.43 408.35,130.19 408.07,132.12 406.50,131.85 404.93,132.12 404.65,130.19 403.96,128.43 405.36,127.51" fill="#4570b8" stroke="#4570b8" stroke-width="0.9" stroke-linejoin="round"/>
<polygon points="417.50,102.51 418.64,103.87 420.04,104.79 419.35,106.55 419.07,108.48 417.50,108.21 415.93,108.48 415.65,106.55 414.96,104.79 416.36,103.87" fill="#4570b8" stroke="#4570b8" stroke-width="0.9" stroke-linejoin="round"/>
<polygon points="431.25,74.24 432.39,75.60 433.79,76.52 433.10,78.28 432.82,80.21 431.25,79.94 429.68,80.21 429.40,78.28 428.71,76.52 430.11,75.60" fill="#4570b8" stroke="#4570b8" stroke-width="0.9" stroke-linejoin="round"/>
<polygon points="445.00,48.83 446.14,50.19 447.54,51.11 446.85,52.87 446.57,54.80 445.00,54.53 443.43,54.80 443.15,52.87 442.46,51.11 443.86,50.19" fill="#4570b8" stroke="#4570b8" stroke-width="0.9" stroke-linejoin="round"/>
<polygon points="458.75,27.70 459.89,29.06 461.29,29.98 460.60,31.74 460.32,33.67 458.75,33.40 457.18,33.67 456.90,31.74 456.21,29.98 457.61,29.06" fill="#4570b8" stroke="#4570b8" stroke-width="0.9" stroke-linejoin="round"/>
<polygon points="472.50,12.01 473.64,13.36 475.04,14.29 474.35,16.05 474.07,17.98 472.50,17.71 470.93,17.98 470.65,16.05 469.96,14.29 471.36,13.36" fill="#4570b8" stroke="#4570b8" stroke-width="0.9" stroke-linejoin="round"/>
<polygon points="486.25,2.62 487.39,3.98 488.79,4.90 488.10,6.66 487.82,8.59 486.25,8.32 484.68,8.59 484.40,6.66 483.71,4.90 485.11,3.98" fill="#4570b8" stroke="#4570b8" stroke-width="0.9" stroke-linejoin="round"/>
<polygon points="500.00,0.06 501.14,1.42 502.54,2.34 501.85,4.10 501.57,6.03 500.00,5.76 498.43,6.03 498.15,4.10 497.46,2.34 498.86,1.42" fill="#4570b8" stroke="#4570b8" stroke-width="0.9" stroke-linejoin="round"/>
<polygon points="513.75,4.47 514.89,5.83 516.29,6.75 515.60,8.51 515.32,10.44 513.75,10.17 512.18,10.44 511.90,8.51 511.21,6.75 512.61,5.83" fill="#4570b8" stroke="#4570b8" stroke-width="0.9" stroke-linejoin="round"/>
<polygon points="527.50,15.60 528.64,16.96 530.04,17.88 529.35,19.65 529.07,21.57 527.50,21.30 525.93,21.57 525.65,19.65 524.96,17.88 526.36,16.96" fill="#4570b8" stroke="#4570b8" stroke-width="0.9" stroke-linejoin="round"/>
<polygon points="541.25,32.85 542.39,34.20 543.79,35.13 543.10,36.89 542.82,38.82 541.25,38.55 539.68,38.82 539.40,36.89 538.71,35.13 540.11,34.20" fill="#4570b8" stroke="#4570b8" stroke-width="0.9" stroke-linejoin="round"/>
<polygon points="555.00,55.24 556.14,56.60 557.54,57.52 556.85,59.28 556.57,61.21 555.00,60.94 553.43,61.21 553.15,59.28 552.46,57.52 553.86,56.60" fill="#4570b8" stroke="#4570b8" stroke-width="0.9" stroke-linejoin="round"/>
<polygon points="568.75,81.56 569.89,82.92 571.29,83.84 570.60,85.60 570.32,87.53 568.75,87.26 567.18,87.53 566.90,85.60 566.21,83.84 567.61,82.92" fill="#4570b8" stroke="#4570b8" stroke-width="0.9" stroke-linejoin="round"/>
<polygon points="582.50,110.34 583.64,111.70 585.04,112.62 584.35,114.38 584.07,116.31 582.50,116.04 580.93,116.31 580.65,114.38 579.96,112.62 581.36,111.70" fill="#4570b8" stroke="#4570b8" stroke-width="0.9" stroke-linejoin="round"/>
<polygon points="596.25,139.99 597.39,141.35 598.79,142.27 598.10,144.03 597.82,145.96 596.25,145.69 594.68,145.96 594.40,144.03 593.71,142.27 595.11,141.35" fill="#4570b8" stroke="#4570b8" stroke-width="0.9" stroke-linejoin="round"/>
<polygon points="610.00,168.88 611.14,170.24 612.54,171.16 611.85,172.92 611.57,174.85 610.00,174.58 608.43,174.85 608.15,172.92 607.46,171.16 608.86,170.24" fill="#4570b8" stroke="#4570b8" stroke-width="0.9" stroke-linejoin="round"/>
<polygon points="623.75,195.41 624.89,196.77 626.29,197.69 625.60,199.45 625.32,201.38 623.75,201.11 622.18,201.38 621.90,199.45 621.21,197.69 622.61,196.77" fill="#4570b8" stroke="#4570b8" stroke-width="0.9" stroke-linejoin="round"/>
<polygon points="637.50,218.11 638.64,219.47 640.04,220.39 639.35,222.15 639.07,224.08 637.50,223.81 635.93,224.08 635.65,222.15 634.96,220.39 636.36,219.47" fill="#4570b8" stroke="#4570b8" stroke-width="0.9" stroke-linejoin="round"/>
<polygon points="651.25,235.73 652.39,237.09 653.79,238.01 653.10,239.77 652.82,241.70 651.25,241.43 649.68,241.70 649.40,239.77 648.71,238.01 650.11,237.09" fill="#4570b8" stroke="#4570b8" stroke-width="0.9" stroke-linejoin="round"/>
<polygon points="665.00,247.29 666.14,248.65 667.54,249.57 666.85,251.33 666.57,253.26 665.00,252.99 663.43,253.26 663.15,251.33 662.46,249.57 663.86,248.65" fill="#4570b8" stroke="#4570b8" stroke-width="0.9" stroke-linejoin="round"/>
<polygon points="681.50,252.30 682.64,253.66 684.04,254.58 683.35,256.34 683.07,258.27 681.50,258.00 679.93,258.27 679.65,256.34 678.96,254.58 680.36,253.66" fill="#4570b8" stroke="#4570b8" stroke-width="0.9" stroke-linejoin="round"/>
<text transform="translate(544.00,285.00) scale(0.8,1) rotate(0.05)" text-anchor="middle" class="lb">z</text>
<text transform="translate(383.6,118.8) scale(0.8,1) rotate(-89.95)" text-anchor="middle" class="lb">y(z,t)</text>
<text transform="translate(489.00,19.30) scale(0.8493,1) rotate(0.05)" class="an" style="font-size:9.3px">t = 1</text>
<text transform="translate(489.00,70.20) scale(0.8915,1) rotate(0.05)" class="an" style="font-size:9.3px">t = 0.75</text>
<text transform="translate(489.00,106.80) scale(0.8916,1) rotate(0.05)" class="an" style="font-size:9.3px">t = 0.5</text>
<text transform="translate(489.00,146.10) scale(0.8874,1) rotate(0.05)" class="an" style="font-size:9.3px">t = 0</text>
<text transform="translate(109.60,305.65) scale(1.1600,1.0) rotate(0.05)" class="cp" style="font-size:15.3px">(a)</text>
<text transform="translate(136.80,305.65) scale(1.0909,1.0) rotate(0.05)" class="cp" style="font-size:15.3px">For</text>
<text transform="translate(165.40,305.65) scale(1.0893,1.17) rotate(0.05)" class="cp" style="font-size:15.3px" font-style="italic">t</text>
<path d="M176.9,299.70H188.3M176.9,303.20H188.3" stroke="#222" stroke-width="0.75" fill="none"/>
<text transform="translate(193.00,305.65) scale(1.0719,1.0) rotate(0.05)" class="cp" style="font-size:15.3px">0.25</text>
<text transform="translate(438.20,305.65) scale(1.1557,1.0) rotate(0.05)" class="cp" style="font-size:15.3px">(b)</text>
<text transform="translate(466.20,305.65) scale(1.0815,1.0) rotate(0.05)" class="cp" style="font-size:15.3px">For</text>
<text transform="translate(495.10,305.65) scale(1.1329,1.17) rotate(0.05)" class="cp" style="font-size:15.3px" font-style="italic">t</text>
<path d="M506.2,299.70H517.9M506.2,303.20H517.9" stroke="#222" stroke-width="0.75" fill="none"/>
<text transform="translate(523.60,305.65) scale(1.0370,1.0) rotate(0.05)" class="cp" style="font-size:15.3px">0.5,</text>
<text transform="translate(556.20,305.65) scale(1.0831,1.0) rotate(0.05)" class="cp" style="font-size:15.3px">0.75</text>
<text transform="translate(591.50,305.65) scale(1.1508,1.0) rotate(0.05)" class="cp" style="font-size:15.3px" font-style="italic">and</text>
<text transform="translate(623.90,305.65) scale(0.9150,1.0) rotate(0.05)" class="cp" style="font-size:15.3px">1</text>
</svg>
</body></html>
